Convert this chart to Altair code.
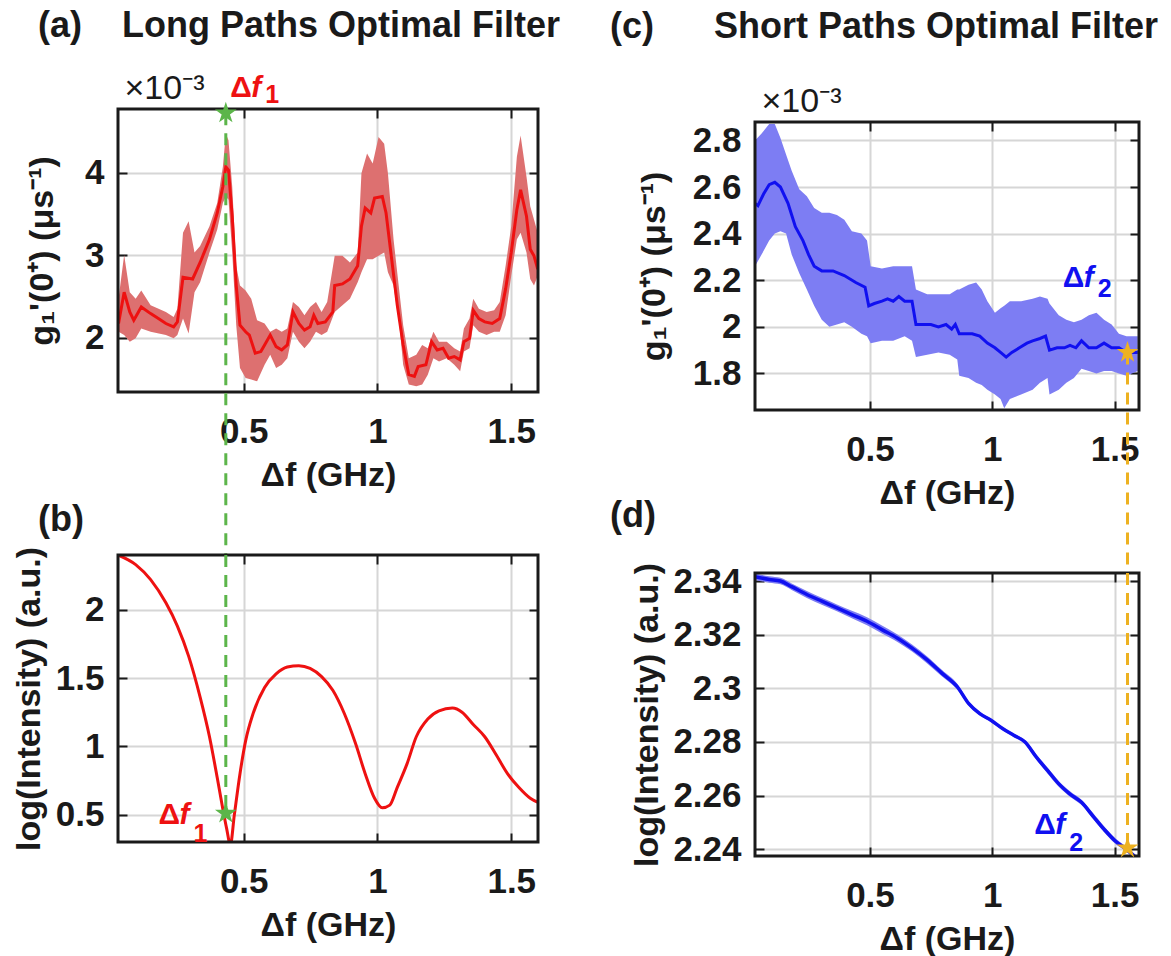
import altair as alt
import pandas as pd

FONT = "Liberation Sans"
INK = "#1A1A1A"
RED = "#EE1111"
RED_BAND = "#DD7070"
BLUE = "#1010F0"
BLUE_BAND = "#7D7DF3"
GREEN = "#5CB54A"
GOLD = "#EDB120"
GRID = "#D6D6D6"
STAR = ("M0,-1L0.2245,-0.309L0.951,-0.309L0.363,0.118L0.588,0.809L0,0.382"
        "L-0.588,0.809L-0.363,0.118L-0.951,-0.309L-0.2245,-0.309Z")

X_DOMAIN = [0.03, 1.6]
X_TICKS = [0.5, 1, 1.5]

# ---------------- panel (a): long paths, g1'(0+) (x1e-3) ----------------
a_y_domain = [1.34, 4.77]
a_y_ticks = [2, 3, 4]
a_mean_x = [0.032, 0.053, 0.074, 0.089, 0.117, 0.152, 0.181, 0.209, 0.238, 0.252,
            0.273, 0.309, 0.337, 0.372, 0.401, 0.422, 0.433, 0.443, 0.457, 0.472,
            0.486, 0.507, 0.521, 0.543, 0.564, 0.578, 0.599, 0.621, 0.642, 0.663,
            0.684, 0.706, 0.727, 0.748, 0.762, 0.777, 0.805, 0.833, 0.840, 0.869,
            0.897, 0.926, 0.940, 0.954, 0.975, 0.989, 1.018, 1.032, 1.053, 1.074,
            1.096, 1.117, 1.138, 1.152, 1.181, 1.202, 1.223, 1.245, 1.266, 1.287,
            1.309, 1.323, 1.344, 1.358, 1.379, 1.401, 1.429, 1.457, 1.479, 1.500,
            1.521, 1.535, 1.557, 1.571, 1.585, 1.599]
a_mean_y = [2.17, 2.55, 2.31, 2.21, 2.37, 2.29, 2.23, 2.17, 2.13, 2.19,
            2.73, 2.71, 2.91, 3.19, 3.51, 3.83, 4.07, 4.03, 3.47, 2.63,
            2.15, 2.07, 2.03, 1.81, 1.83, 1.91, 2.03, 1.89, 1.85, 1.91,
            2.31, 2.17, 2.09, 2.13, 2.27, 2.17, 2.19, 2.31, 2.63, 2.65,
            2.71, 2.87, 3.35, 3.57, 3.51, 3.69, 3.71, 3.51, 2.95, 2.39,
            1.91, 1.55, 1.53, 1.65, 1.67, 1.95, 1.85, 1.87, 1.75, 1.77,
            1.73, 1.95, 1.99, 2.33, 2.23, 2.19, 2.17, 2.23, 2.59, 3.03,
            3.55, 3.79, 3.47, 3.07, 2.99, 2.83]
a_band_x = [0.032, 0.053, 0.074, 0.096, 0.117, 0.152, 0.209, 0.238, 0.252, 0.273,
            0.294, 0.316, 0.337, 0.372, 0.401, 0.422, 0.433, 0.443, 0.457, 0.472,
            0.486, 0.507, 0.528, 0.550, 0.578, 0.599, 0.621, 0.642, 0.663, 0.684,
            0.706, 0.727, 0.748, 0.770, 0.791, 0.812, 0.840, 0.869, 0.897, 0.926,
            0.940, 0.961, 0.982, 1.004, 1.025, 1.039, 1.060, 1.082, 1.096, 1.117,
            1.145, 1.167, 1.188, 1.209, 1.230, 1.259, 1.287, 1.309, 1.323, 1.344,
            1.358, 1.379, 1.408, 1.436, 1.457, 1.479, 1.500, 1.521, 1.535, 1.557,
            1.571, 1.585, 1.599]
a_band_hi = [2.47, 3.00, 2.55, 2.47, 2.57, 2.39, 2.31, 2.25, 2.35, 3.27,
             3.41, 3.03, 3.11, 3.35, 3.63, 4.07, 4.47, 4.39, 3.83, 2.87,
             2.63, 2.57, 2.47, 2.21, 2.17, 2.07, 2.11, 2.07, 2.11, 2.43,
             2.37, 2.27, 2.37, 2.43, 2.31, 2.43, 2.99, 2.99, 2.91, 3.03,
             3.99, 4.23, 4.11, 4.43, 4.35, 3.99, 3.19, 2.55, 2.15, 1.75,
             1.79, 1.91, 1.87, 2.07, 1.95, 1.95, 1.87, 1.83, 2.11, 2.23,
             2.47, 2.35, 2.31, 2.33, 2.43, 2.87, 3.35, 4.19, 4.45, 3.95,
             3.59, 3.43, 3.27]
a_band_lo = [2.07, 2.03, 1.95, 1.99, 2.11, 2.07, 2.03, 1.99, 2.03, 2.23,
             2.05, 2.55, 2.67, 3.03, 3.31, 3.63, 3.71, 3.67, 3.03, 2.15,
             1.63, 1.51, 1.49, 1.47, 1.67, 1.79, 1.63, 1.67, 1.75, 2.07,
             1.95, 1.87, 1.95, 2.07, 2.03, 2.07, 2.31, 2.39, 2.47, 2.67,
             2.79, 2.95, 2.95, 2.99, 3.03, 2.79, 2.63, 2.15, 1.67, 1.43,
             1.41, 1.43, 1.55, 1.75, 1.71, 1.75, 1.67, 1.59, 1.83, 1.87,
             2.15, 2.07, 2.03, 2.07, 2.07, 2.27, 2.75, 3.19, 3.27, 3.03,
             2.71, 2.63, 2.75]

# ---------------- panel (b): long paths, log intensity ----------------
b_y_domain = [0.30, 2.40]
b_y_ticks = [0.5, 1, 1.5, 2]
b_x = [0.030, 0.096, 0.152, 0.209, 0.252, 0.294, 0.337, 0.372, 0.401, 0.422,
       0.436, 0.450, 0.465, 0.486, 0.507, 0.535, 0.578, 0.621, 0.663, 0.706,
       0.748, 0.791, 0.833, 0.876, 0.918, 0.954, 0.989, 1.018, 1.046, 1.074,
       1.110, 1.145, 1.188, 1.230, 1.280, 1.316, 1.358, 1.401, 1.443, 1.486,
       1.528, 1.571, 1.600]
b_y = [2.40, 2.33, 2.22, 2.05, 1.88, 1.66, 1.36, 1.07, 0.77, 0.54,
       0.40, 0.28, 0.50, 0.80, 1.04, 1.24, 1.43, 1.53, 1.58, 1.59,
       1.57, 1.51, 1.41, 1.24, 1.02, 0.80, 0.62, 0.55, 0.57, 0.70,
       0.87, 1.07, 1.20, 1.26, 1.28, 1.25, 1.16, 1.07, 0.94, 0.80,
       0.70, 0.62, 0.59]

# ---------------- panel (c): short paths, g1'(0+) (x1e-3) ----------------
c_y_domain = [1.643, 2.879]
c_y_ticks = [1.8, 2, 2.2, 2.4, 2.6, 2.8]
c_mean_x = [0.030, 0.042, 0.065, 0.088, 0.111, 0.134, 0.165, 0.195, 0.226, 0.249,
            0.272, 0.303, 0.349, 0.395, 0.442, 0.480, 0.495, 0.518, 0.549, 0.572,
            0.595, 0.618, 0.642, 0.672, 0.688, 0.718, 0.749, 0.780, 0.811, 0.834,
            0.849, 0.865, 0.888, 0.918, 0.949, 0.980, 1.011, 1.034, 1.057, 1.080,
            1.111, 1.142, 1.165, 1.195, 1.218, 1.234, 1.265, 1.295, 1.318, 1.342,
            1.365, 1.395, 1.426, 1.457, 1.488, 1.518, 1.549, 1.595]
c_mean_y = [2.53, 2.52, 2.57, 2.61, 2.62, 2.60, 2.53, 2.43, 2.37, 2.31,
            2.26, 2.24, 2.24, 2.22, 2.19, 2.17, 2.09, 2.10, 2.11, 2.12,
            2.11, 2.13, 2.11, 2.11, 2.01, 2.01, 2.01, 2.00, 2.01, 1.99,
            2.01, 1.97, 1.97, 1.97, 1.96, 1.93, 1.91, 1.89, 1.87, 1.89,
            1.91, 1.93, 1.94, 1.95, 1.96, 1.90, 1.91, 1.91, 1.92, 1.91,
            1.94, 1.91, 1.91, 1.93, 1.91, 1.91, 1.89, 1.89]
c_band_x = [0.030, 0.057, 0.088, 0.111, 0.134, 0.157, 0.180, 0.211, 0.242, 0.272,
            0.303, 0.334, 0.365, 0.395, 0.426, 0.465, 0.488, 0.503, 0.549, 0.595,
            0.642, 0.672, 0.688, 0.734, 0.780, 0.826, 0.857, 0.865, 0.903, 0.934,
            0.957, 0.980, 1.011, 1.034, 1.049, 1.072, 1.118, 1.165, 1.195, 1.226,
            1.234, 1.272, 1.303, 1.334, 1.365, 1.395, 1.426, 1.457, 1.488, 1.518,
            1.549, 1.595]
c_band_hi = [2.80, 2.83, 2.87, 2.87, 2.81, 2.74, 2.67, 2.59, 2.56, 2.51,
             2.49, 2.49, 2.48, 2.46, 2.41, 2.40, 2.37, 2.26, 2.25, 2.26,
             2.26, 2.26, 2.16, 2.14, 2.14, 2.14, 2.16, 2.16, 2.18, 2.19,
             2.16, 2.11, 2.06, 2.08, 2.09, 2.11, 2.11, 2.12, 2.13, 2.12,
             2.10, 2.05, 2.03, 2.02, 2.03, 2.05, 2.06, 2.03, 2.01, 1.97,
             1.96, 1.96]
c_band_lo = [2.26, 2.31, 2.37, 2.40, 2.41, 2.40, 2.31, 2.23, 2.16, 2.09,
             2.03, 2.00, 2.01, 2.02, 2.00, 1.97, 1.96, 1.93, 1.94, 1.94,
             1.96, 1.94, 1.87, 1.88, 1.89, 1.88, 1.86, 1.79, 1.78, 1.76,
             1.75, 1.73, 1.71, 1.69, 1.65, 1.69, 1.71, 1.73, 1.76, 1.78,
             1.71, 1.73, 1.76, 1.78, 1.82, 1.81, 1.80, 1.81, 1.81, 1.80,
             1.79, 1.81]

# ---------------- panel (d): short paths, log intensity ----------------
d_y_domain = [2.2375, 2.3430]
d_y_ticks = [2.24, 2.26, 2.28, 2.3, 2.32, 2.34]
d_x = [0.030, 0.088, 0.134, 0.180, 0.242, 0.303, 0.365, 0.426, 0.488, 0.549,
       0.611, 0.672, 0.734, 0.795, 0.857, 0.903, 0.949, 0.995, 1.042, 1.088,
       1.134, 1.180, 1.226, 1.272, 1.318, 1.365, 1.411, 1.457, 1.503, 1.549,
       1.580, 1.600]
d_y = [2.3416, 2.3406, 2.3400, 2.3379, 2.3350, 2.3325, 2.3300, 2.3275, 2.3250, 2.3219,
       2.3188, 2.3150, 2.3106, 2.3056, 2.3006, 2.2944, 2.2906, 2.2881, 2.2850, 2.2825,
       2.2800, 2.2744, 2.2694, 2.2644, 2.2606, 2.2575, 2.2525, 2.2475, 2.2431, 2.2400,
       2.2375, 2.2360]
d_hi = [2.3428, 2.3418, 2.3412, 2.3391, 2.3363, 2.3338, 2.3313, 2.3289, 2.3265, 2.3234,
        2.3202, 2.3163, 2.3119, 2.3068, 2.3017, 2.2952, 2.2913, 2.2887, 2.2856, 2.2831,
        2.2807, 2.2754, 2.2705, 2.2655, 2.2616, 2.2585, 2.2536, 2.2486, 2.2441, 2.2409,
        2.2384, 2.2369]
d_lo = [2.3404, 2.3394, 2.3388, 2.3367, 2.3337, 2.3312, 2.3287, 2.3261, 2.3235, 2.3204,
        2.3174, 2.3137, 2.3093, 2.3044, 2.2995, 2.2936, 2.2899, 2.2875, 2.2844, 2.2819,
        2.2793, 2.2734, 2.2683, 2.2633, 2.2596, 2.2565, 2.2514, 2.2464, 2.2421, 2.2391,
        2.2366, 2.2351]

# markers
df1_x = 0.433
df1_top_y = 4.72
df1_bottom_y = 0.51
df2_x = 1.553
df2_top_y = 1.89
df2_bottom_y = 2.2405

# layout (pixels)
LEFT_W, RIGHT_W = 420, 384
A_H, B_H, C_H, D_H = 283, 287, 288, 283
V_GAP = 163
RIGHT_DROP = 13
TICK_LEN = 9
LABEL_SIZE = 35
TITLE_SIZE = 34


def xscale():
    return alt.Scale(domain=X_DOMAIN, nice=False, zero=False)


def yscale(dom):
    return alt.Scale(domain=dom, nice=False, zero=False)


def label_axes(yticks, ytitle, ytitle_pad):
    common = dict(grid=True, gridColor=GRID, gridWidth=2, ticks=False, domain=False,
                  labelFont=FONT, labelFontSize=LABEL_SIZE, labelFontWeight="bold",
                  labelColor=INK, labelExpr="'' + datum.value",
                  titleFont=FONT, titleFontSize=TITLE_SIZE, titleFontWeight="bold",
                  titleColor=INK)
    ax = alt.Axis(orient="bottom", values=X_TICKS, labelPadding=22,
                  title="Δf (GHz)", titlePadding=9, **common)
    ay = alt.Axis(orient="left", values=yticks, labelPadding=14,
                  title=ytitle, titlePadding=ytitle_pad, **common)
    return ax, ay


def tick_axis(orient, values, extra=None):
    kw = dict(orient=orient, values=values, offset=-TICK_LEN, tickSize=TICK_LEN,
              tickWidth=2, tickColor=INK, labels=False, domain=False, grid=False,
              title=None)
    if extra:
        kw.update(extra)
    return alt.Axis(**kw)


def frame_layers(ydom, yticks, exponent):
    corners = pd.DataFrame({"x": X_DOMAIN, "y": ydom})
    box = pd.DataFrame({"x0": [X_DOMAIN[0]], "x1": [X_DOMAIN[1]],
                        "y0": [ydom[0]], "y1": [ydom[1]]})
    left_extra = None
    if exponent:
        left_extra = dict(title="×10⁻³", titleAngle=0, titleAlign="left",
                          titleBaseline="alphabetic", titleX=-3, titleY=-11,
                          titleFont=FONT, titleFontSize=34, titleFontWeight="normal",
                          titleColor=INK)
    l1 = alt.Chart(corners).mark_point(opacity=0, size=1).encode(
        x=alt.X("x:Q", scale=xscale(), axis=tick_axis("bottom", X_TICKS)),
        y=alt.Y("y:Q", scale=yscale(ydom), axis=tick_axis("left", yticks, left_extra)))
    l2 = alt.Chart(corners).mark_point(opacity=0, size=1).encode(
        x=alt.X("x:Q", scale=xscale(), axis=tick_axis("top", X_TICKS)),
        y=alt.Y("y:Q", scale=yscale(ydom), axis=tick_axis("right", yticks)))
    l3 = alt.Chart(box).mark_rect(filled=False, stroke=INK, strokeWidth=3).encode(
        x=alt.X("x0:Q", scale=xscale(), axis=None), x2="x1:Q",
        y=alt.Y("y0:Q", scale=yscale(ydom), axis=None), y2="y1:Q")
    return [l1, l2, l3]


def star_layer(x, y, ydom, color):
    df = pd.DataFrame({"x": [x], "y": [y]})
    return alt.Chart(df).mark_point(shape=STAR, size=520, filled=True, color=color,
                                    opacity=1).encode(
        x=alt.X("x:Q", scale=xscale(), axis=None),
        y=alt.Y("y:Q", scale=yscale(ydom), axis=None))


def rule_layer(x, y1, y2, ydom, color):
    df = pd.DataFrame({"x": [x], "y": [y1], "y2": [y2]})
    return alt.Chart(df).mark_rule(color=color, strokeWidth=3,
                                   strokeDash=[12, 8]).encode(
        x=alt.X("x:Q", scale=xscale(), axis=None),
        y=alt.Y("y:Q", scale=yscale(ydom), axis=None),
        y2="y2:Q")


def delta_label(x, y, ysub, sub, ydom, color):
    base = pd.DataFrame({"x": [x], "y": [y]})
    subdf = pd.DataFrame({"x": [x], "y": [ysub]})
    enc = dict(x=alt.X("x:Q", scale=xscale(), axis=None),
               y=alt.Y("y:Q", scale=yscale(ydom), axis=None))
    t1 = alt.Chart(base).mark_text(text="Δ", align="left", baseline="alphabetic",
                                   font=FONT, fontSize=30, fontWeight="bold",
                                   color=color).encode(**enc)
    t2 = alt.Chart(base).mark_text(text="f", align="left", baseline="alphabetic",
                                   dx=21, font=FONT, fontSize=30, fontWeight="bold",
                                   fontStyle="italic", color=color).encode(**enc)
    t3 = alt.Chart(subdf).mark_text(text=sub, align="left", baseline="alphabetic",
                                    dx=35, font=FONT, fontSize=25, fontWeight="bold",
                                    color=color).encode(**enc)
    return [t1, t2, t3]


def title(text, dx, offset):
    return alt.TitleParams(text=text, anchor="start", frame="group", dx=dx,
                           offset=offset, font=FONT, fontSize=36,
                           fontWeight="bold", color=INK)


def curve_layers(mx, my, bx, blo, bhi, ydom, yticks, ytitle, ytitle_pad, color, band,
                 width=3, interp="linear"):
    ax, ay = label_axes(yticks, ytitle, ytitle_pad)
    band_df = pd.DataFrame({"x": bx, "lo": blo, "hi": bhi})
    line_df = pd.DataFrame({"x": mx, "y": my})
    area = alt.Chart(band_df).mark_area(color=band, opacity=1, clip=True,
                                        interpolate=interp).encode(
        x=alt.X("x:Q", scale=xscale(), axis=ax),
        y=alt.Y("lo:Q", scale=yscale(ydom), axis=ay),
        y2="hi:Q")
    line = alt.Chart(line_df).mark_line(color=color, strokeWidth=width, clip=True,
                                        interpolate=interp).encode(
        x=alt.X("x:Q", scale=xscale(), axis=None),
        y=alt.Y("y:Q", scale=yscale(ydom), axis=None))
    return [area, line]


def panel(layers, w, h, ttl):
    return alt.layer(*layers).resolve_axis(x="independent", y="independent").properties(
        width=w, height=h, title=ttl)


# connector ends beyond the axes, continuing through the gap between rows
a_units_per_px = (a_y_domain[1] - a_y_domain[0]) / A_H
a_rule_end = a_y_domain[0] - V_GAP * a_units_per_px
c_units_per_px = (c_y_domain[1] - c_y_domain[0]) / C_H
c_rule_end = c_y_domain[0] - V_GAP * c_units_per_px

G_TITLE = "g₁'(0⁺) (μs⁻¹)"
L_TITLE = "log(Intensity) (a.u.)"
NB = "\u00a0"

pa = panel(
    curve_layers(a_mean_x, a_mean_y, a_band_x, a_band_lo, a_band_hi, a_y_domain,
                 a_y_ticks, G_TITLE, 25, RED, RED_BAND)
    + frame_layers(a_y_domain, a_y_ticks, True)
    + [rule_layer(df1_x, df1_top_y, a_rule_end, a_y_domain, GREEN),
       star_layer(df1_x, df1_top_y, a_y_domain, GREEN)]
    + delta_label(0.45, 4.91, 4.84, "1", a_y_domain, RED),
    LEFT_W, A_H, title("(a)" + NB * 4 + "Long Paths Optimal Filter", -80, 26))

b_df = pd.DataFrame({"x": b_x, "y": b_y})
bx_ax, by_ax = label_axes(b_y_ticks, L_TITLE, 9)
b_line = alt.Chart(b_df).mark_line(color=RED, strokeWidth=3, clip=True,
                                   interpolate="monotone").encode(
    x=alt.X("x:Q", scale=xscale(), axis=bx_ax),
    y=alt.Y("y:Q", scale=yscale(b_y_domain), axis=by_ax))
pb = panel(
    [b_line] + frame_layers(b_y_domain, b_y_ticks, False)
    + [rule_layer(df1_x, b_y_domain[1], df1_bottom_y, b_y_domain, GREEN),
       star_layer(df1_x, df1_bottom_y, b_y_domain, GREEN)]
    + delta_label(0.181, 0.43, 0.30, "1", b_y_domain, RED),
    LEFT_W, B_H, title("(b)", -80, 7))

pc = panel(
    curve_layers(c_mean_x, c_mean_y, c_band_x, c_band_lo, c_band_hi, c_y_domain,
                 c_y_ticks, G_TITLE, 21, BLUE, BLUE_BAND)
    + frame_layers(c_y_domain, c_y_ticks, True)
    + [rule_layer(df2_x, df2_top_y, c_rule_end, c_y_domain, GOLD),
       star_layer(df2_x, df2_top_y, c_y_domain, GOLD)]
    + delta_label(1.288, 2.171, 2.129, "2", c_y_domain, BLUE),
    RIGHT_W, C_H, title("(c)" + NB * 6 + "Short Paths Optimal Filter", -145, 38))

pd_ = panel(
    curve_layers(d_x, d_y, d_x, d_lo, d_hi, d_y_domain, d_y_ticks, L_TITLE, 8,
                 BLUE, BLUE_BAND, width=3.5, interp="monotone")
    + frame_layers(d_y_domain, d_y_ticks, False)
    + [rule_layer(df2_x, d_y_domain[1], df2_bottom_y, d_y_domain, GOLD),
       star_layer(df2_x, df2_bottom_y, d_y_domain, GOLD)]
    + delta_label(1.172, 2.2456, 2.2394, "2", d_y_domain, BLUE),
    RIGHT_W, D_H, title("(d)", -145, 27))

# an empty 1-px strip that lowers the right-hand column relative to the left one
spacer = alt.Chart(pd.DataFrame({"v": [0]})).mark_point(opacity=0, size=1).encode(
    x=alt.X("v:Q", axis=None), y=alt.Y("v:Q", axis=None)).properties(
    width=RIGHT_W, height=1, view=alt.ViewBackground(strokeOpacity=0, strokeWidth=0))

left = alt.vconcat(pa, pb, spacing=V_GAP, bounds="flush")
right_inner = alt.vconcat(pc, pd_, spacing=V_GAP, bounds="flush")
right = alt.vconcat(spacer, right_inner, spacing=RIGHT_DROP - 1, bounds="flush")

chart = alt.hconcat(left, right, spacing=48).properties(
    padding={"left": 11, "top": 7, "right": 0, "bottom": 0},
    background="white",
).configure_view(strokeWidth=0, strokeOpacity=0).configure(font=FONT)

chart.save("out.html", embed_options={"renderer": "svg", "actions": False})
